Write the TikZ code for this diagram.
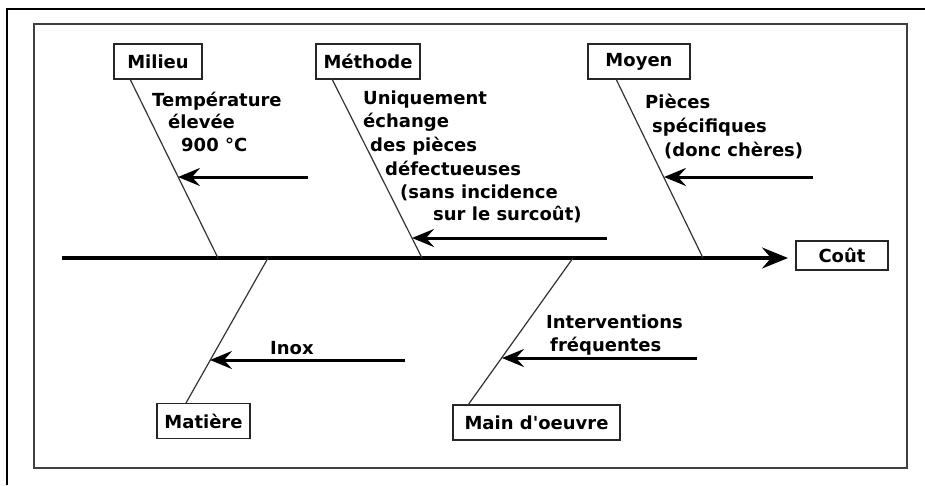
\documentclass[tikz,border=0pt]{standalone}
\usepackage{fontspec}
\setmainfont{DejaVu Sans}[Ligatures=TeXOff]
\usetikzlibrary{arrows.meta}
\begin{document}
\begin{tikzpicture}[x=1pt,y=-1pt,
  box/.style={draw=black!85,line width=1.6pt,fill=white,inner sep=0pt,
    font=\bfseries\fontsize{18}{18}\selectfont,minimum height=35pt},
  lbl/.style={anchor=base west,inner sep=0pt,font=\bfseries\fontsize{18}{18}\selectfont},
  bone/.style={line width=1.2pt,draw=black!80},
  cause/.style={line width=3pt,-{Stealth[length=22pt,width=18pt,inset=8pt]}},
  spine/.style={line width=3.2pt,-{Stealth[length=26pt,width=21pt,inset=9pt]}}]
\useasboundingbox (0,0) rectangle (925,485);
% frames
\draw[line width=2.5pt] (7,485) -- (7,9) -- (925,9);
\draw[line width=1.8pt,black!75] (34,24) rectangle (907,468);
% boxes
\node[box,minimum width=88pt] (milieu) at (158,61.5) {Milieu};
\node[box,minimum width=104pt] (methode) at (368,61.5) {Méthode};
\node[box,minimum width=102pt] (moyen) at (639,61.5) {Moyen};
\node[box,minimum width=92pt,minimum height=29pt] (cout) at (842,255.5) {Coût};
\node[box,minimum width=93pt] (matiere) at (203.5,421) {Matière};
\node[box,minimum width=167pt] (main) at (536.5,422.5) {Main d'oeuvre};
% spine
\coordinate (sp0) at (62,258);
\coordinate (sp1) at (788,258);
\draw[spine] (sp0) -- (sp1);
% bone coordinates
\coordinate (b1t) at (130,79);  \coordinate (b1b) at (218,258);
\coordinate (b2t) at (332,79);  \coordinate (b2b) at (422,258);
\coordinate (b3t) at (616,79);  \coordinate (b3b) at (703,258);
\coordinate (b4t) at (268,258); \coordinate (b4b) at (186,403);
\coordinate (b5t) at (573,258); \coordinate (b5b) at (468,405);
\draw[bone] (b1t) -- (b1b);
\draw[bone] (b2t) -- (b2b);
\draw[bone] (b3t) -- (b3b);
\draw[bone] (b4t) -- (b4b);
\draw[bone] (b5t) -- (b5b);
% cause arrows
\coordinate (c1s) at (308,177); \coordinate (c1e) at (178,177);
\coordinate (c2s) at (607,238); \coordinate (c2e) at (412,238);
\coordinate (c3s) at (813,177); \coordinate (c3e) at (664,177);
\coordinate (c4s) at (405,360); \coordinate (c4e) at (210,360);
\coordinate (c5s) at (697,358); \coordinate (c5e) at (502,358);
\draw[cause] (c1s) -- (c1e);
\draw[cause] (c2s) -- (c2e);
\draw[cause] (c3s) -- (c3e);
\draw[cause] (c4s) -- (c4e);
\draw[cause] (c5s) -- (c5e);
% labels
\node[lbl] (t1a) at (152,106) {Température};
\node[lbl] (t1b) at (168,128) {élevée};
\node[lbl] (t1c) at (181,151) {900 °C};
\node[lbl] (t2a) at (363,104) {Uniquement};
\node[lbl] (t2b) at (363,127) {échange};
\node[lbl] (t2c) at (370,151) {des pièces};
\node[lbl] (t2d) at (385,175) {défectueuses};
\node[lbl] (t2e) at (400,198) {(sans incidence};
\node[lbl] (t2f) at (433,220) {sur le surcoût)};
\node[lbl] (t3a) at (645,108) {Pièces};
\node[lbl] (t3b) at (652,132) {spécifiques};
\node[lbl] (t3c) at (664,156) {(donc chères)};
\node[lbl] (t4) at (270,354) {Inox};
\node[lbl] (t5a) at (546,328) {Interventions};
\node[lbl] (t5b) at (550,351) {fréquentes};
\end{tikzpicture}
\end{document}
